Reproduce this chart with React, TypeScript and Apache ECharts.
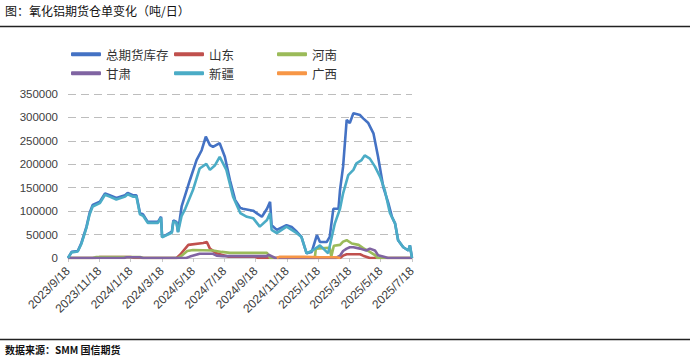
import React, { useEffect, useRef } from "react";
import * as echarts from "echarts";

const TICK_LABELS = [
  "2023/9/18", "2023/11/18", "2024/1/18", "2024/3/18", "2024/5/18", "2024/7/18",
  "2024/9/18", "2024/11/18", "2025/1/18", "2025/3/18", "2025/5/18", "2025/7/18",
];
const START_DATE = "2023-09-18";
const END_DATE = "2025-07-18";

const SERIES_NAMES = ["总期货库存", "山东", "河南", "甘肃", "新疆", "广西"];

type Pt = [string, number];

const TOTAL: Pt[] = [
  ["2023-09-18", 0], ["2023-09-25", 13000], ["2023-10-07", 15000], ["2023-10-14", 32000],
  ["2023-10-24", 67000], ["2023-10-30", 96000], ["2023-11-05", 113000], ["2023-11-19", 120000],
  ["2023-11-29", 138000], ["2023-12-08", 134000], ["2023-12-21", 128000], ["2024-01-07", 134000],
  ["2024-01-12", 139000], ["2024-01-22", 134000], ["2024-01-29", 134000], ["2024-02-05", 96000],
  ["2024-02-11", 93000], ["2024-02-20", 77000], ["2024-03-11", 77000], ["2024-03-17", 88000],
  ["2024-03-19", 45000], ["2024-03-28", 50000], ["2024-04-07", 56000], ["2024-04-10", 80000],
  ["2024-04-16", 77000], ["2024-04-19", 56000], ["2024-04-26", 110000], ["2024-05-12", 166000],
  ["2024-05-25", 209000], ["2024-06-04", 230000], ["2024-06-12", 259000], ["2024-06-20", 241000],
  ["2024-06-26", 237000], ["2024-07-09", 245000], ["2024-07-19", 216000], ["2024-07-29", 166000],
  ["2024-08-08", 124000], ["2024-08-18", 107000], ["2024-08-23", 105000], ["2024-09-12", 101000],
  ["2024-09-29", 88000], ["2024-10-09", 105000], ["2024-10-15", 120000], ["2024-10-18", 70000],
  ["2024-10-28", 60000], ["2024-11-16", 70000], ["2024-11-26", 66000], ["2024-12-06", 56000],
  ["2024-12-15", 45000], ["2024-12-25", 10000], ["2025-01-04", 13000], ["2025-01-14", 49000],
  ["2025-01-20", 34000], ["2025-02-02", 34000], ["2025-02-08", 45000], ["2025-02-15", 105000],
  ["2025-02-25", 105000], ["2025-02-28", 145000], ["2025-03-06", 195000], ["2025-03-13", 295000],
  ["2025-03-19", 288000], ["2025-03-26", 309000], ["2025-04-08", 305000], ["2025-04-14", 298000],
  ["2025-04-24", 288000], ["2025-05-04", 266000], ["2025-05-13", 216000], ["2025-05-23", 152000],
  ["2025-06-02", 117000], ["2025-06-09", 88000], ["2025-06-15", 74000], ["2025-06-21", 38000],
  ["2025-07-01", 23000], ["2025-07-11", 16000], ["2025-07-14", 27000], ["2025-07-18", 0],
];

const XINJIANG: Pt[] = [
  ["2023-09-18", 0], ["2023-09-25", 12000], ["2023-10-07", 14000], ["2023-10-14", 30000],
  ["2023-10-24", 65000], ["2023-10-30", 93000], ["2023-11-05", 110000], ["2023-11-19", 117000],
  ["2023-11-29", 135000], ["2023-12-08", 131000], ["2023-12-21", 125000], ["2024-01-07", 131000],
  ["2024-01-12", 136000], ["2024-01-22", 131000], ["2024-01-29", 131000], ["2024-02-05", 93000],
  ["2024-02-11", 90000], ["2024-02-20", 75000], ["2024-03-11", 75000], ["2024-03-17", 86000],
  ["2024-03-19", 44000], ["2024-03-28", 49000], ["2024-04-07", 54000], ["2024-04-10", 78000],
  ["2024-04-16", 75000], ["2024-04-19", 55000], ["2024-04-26", 90000], ["2024-05-03", 105000],
  ["2024-05-18", 145000], ["2024-05-31", 191000], ["2024-06-13", 201000], ["2024-06-20", 188000],
  ["2024-06-30", 198000], ["2024-07-09", 216000], ["2024-07-22", 188000], ["2024-08-04", 131000],
  ["2024-08-18", 96000], ["2024-08-31", 88000], ["2024-09-12", 85000], ["2024-09-25", 67000],
  ["2024-10-09", 81000], ["2024-10-15", 96000], ["2024-10-18", 60000], ["2024-10-28", 53000],
  ["2024-11-16", 67000], ["2024-12-06", 53000], ["2024-12-15", 45000], ["2024-12-25", 10000],
  ["2025-01-07", 17000], ["2025-01-20", 27000], ["2025-02-05", 10000], ["2025-02-12", 45000],
  ["2025-02-18", 74000], ["2025-02-28", 105000], ["2025-03-06", 138000], ["2025-03-16", 177000],
  ["2025-03-26", 188000], ["2025-04-01", 202000], ["2025-04-11", 209000], ["2025-04-17", 219000],
  ["2025-04-27", 212000], ["2025-05-07", 195000], ["2025-05-17", 173000], ["2025-05-26", 145000],
  ["2025-06-05", 96000], ["2025-06-15", 74000], ["2025-06-21", 38000], ["2025-07-01", 23000],
  ["2025-07-11", 16000], ["2025-07-14", 27000], ["2025-07-18", 0],
];

const SHANDONG: Pt[] = [
  ["2023-09-18", 0], ["2023-11-10", 0], ["2023-11-19", 2000], ["2024-01-18", 2000],
  ["2024-01-25", 0], ["2024-04-16", 0], ["2024-04-23", 7000], ["2024-05-09", 28000],
  ["2024-06-07", 32000], ["2024-06-14", 34000], ["2024-06-20", 20000], ["2024-07-03", 10000],
  ["2024-07-16", 6000], ["2024-07-25", 3000], ["2024-09-15", 3000], ["2024-09-22", 0],
  ["2025-02-28", 0], ["2025-03-06", 5000], ["2025-03-13", 8000], ["2025-04-08", 8000],
  ["2025-04-14", 5000], ["2025-04-27", 0], ["2025-07-18", 0],
];

const HENAN: Pt[] = [
  ["2023-09-18", 0], ["2023-11-05", 0], ["2023-11-12", 2000], ["2024-02-05", 2000],
  ["2024-02-12", 0], ["2024-04-19", 0], ["2024-04-26", 5000], ["2024-05-07", 15000],
  ["2024-05-18", 17000], ["2024-06-26", 16000], ["2024-07-13", 13000], ["2024-07-29", 11000],
  ["2024-10-09", 11000], ["2024-10-15", 0], ["2025-01-10", 0], ["2025-01-12", 20000],
  ["2025-02-08", 22000], ["2025-02-11", 3000], ["2025-02-16", 26000], ["2025-02-28", 28000],
  ["2025-03-06", 35000], ["2025-03-13", 38000], ["2025-03-23", 31000], ["2025-04-05", 28000],
  ["2025-04-14", 21000], ["2025-04-27", 13000], ["2025-05-07", 6000], ["2025-05-12", 0],
  ["2025-07-18", 0],
];

const GANSU: Pt[] = [
  ["2023-09-18", 0], ["2024-01-05", 0], ["2024-01-10", 1500], ["2024-02-05", 1500],
  ["2024-02-10", 0], ["2024-05-05", 0], ["2024-05-12", 3000], ["2024-05-31", 9000],
  ["2024-06-26", 9000], ["2024-07-03", 5000], ["2024-07-16", 4000], ["2024-10-09", 4000],
  ["2024-10-12", 7000], ["2024-10-25", 0], ["2025-02-20", 0], ["2025-02-28", 5000],
  ["2025-03-06", 15000], ["2025-03-13", 20000], ["2025-03-19", 23000], ["2025-03-26", 23000],
  ["2025-04-08", 20000], ["2025-04-20", 16000], ["2025-04-27", 20000], ["2025-05-07", 16000],
  ["2025-05-13", 6000], ["2025-05-26", 2000], ["2025-06-01", 0], ["2025-07-18", 0],
];

const GUANGXI: Pt[] = [
  ["2024-10-28", 0], ["2024-11-02", 2500], ["2024-12-20", 2500], ["2025-01-20", 1500],
  ["2025-02-20", 1500], ["2025-03-01", 0],
];

const COLORS: Record<string, string> = {
  "总期货库存": "#4472C4",
  "山东": "#C0504D",
  "河南": "#9BBB59",
  "甘肃": "#8064A2",
  "新疆": "#4BACC6",
  "广西": "#F79646",
};

function dayOffset(s: string): number {
  const [y, m, d] = s.split("-").map(Number);
  const [y0, m0, d0] = START_DATE.split("-").map(Number);
  return (Date.UTC(y, m - 1, d) - Date.UTC(y0, m0 - 1, d0)) / 86400000;
}

export default function App() {
  const ref = useRef<HTMLDivElement>(null);
  useEffect(() => {
    if (!ref.current) return;
    const chart = echarts.init(ref.current, null, { renderer: "svg" });
    const span = dayOffset(END_DATE);
    const step = span / (TICK_LABELS.length - 1);
    const toData = (arr: Pt[]) => arr.map(([d, v]) => [dayOffset(d), v]);
    const mk = (name: string, arr: Pt[], z: number) => ({
      name,
      type: "line",
      data: toData(arr),
      showSymbol: false,
      symbol: "none",
      z,
      lineStyle: { color: COLORS[name], width: 2.6 },
      itemStyle: { color: COLORS[name] },
    });
    const colLeft = [66, 169, 272];
    const rowTop = [43, 62];
    const legends = SERIES_NAMES.map((name, i) => ({
      left: colLeft[i % 3],
      top: rowTop[Math.floor(i / 3)],
      itemWidth: 30,
      itemHeight: 4,
      itemGap: 0,
      icon: "roundRect",
      data: [name],
      textStyle: { fontSize: 12.5, color: "#333", fontFamily: "Noto Sans CJK SC" },
    }));
    chart.setOption({
      animation: false,
      backgroundColor: "#ffffff",
      graphic: [
        {
          type: "text",
          left: 5,
          top: 4,
          style: {
            text: "图：氧化铝期货仓单变化（吨/日）",
            fontSize: 12,
            fontFamily: "Noto Sans CJK SC",
            fill: "#111",
          },
        },
        {
          type: "line",
          shape: { x1: 0, y1: 26.5, x2: 690, y2: 26.5 },
          style: { stroke: "#222", lineWidth: 1.5 },
        },
        {
          type: "line",
          shape: { x1: 0, y1: 339.5, x2: 690, y2: 339.5 },
          style: { stroke: "#222", lineWidth: 1.5 },
        },
        {
          type: "text",
          left: 5,
          top: 344,
          style: {
            text: "数据来源：SMM 国信期货",
            fontSize: 10,
            fontWeight: "bold",
            fontFamily: "Noto Sans CJK SC",
            fill: "#111",
          },
        },
      ],
      legend: legends,
      grid: { left: 68, right: 287, top: 94, bottom: 100 },
      xAxis: {
        type: "value",
        min: 0,
        max: span,
        interval: step,
        splitLine: { show: false },
        axisLine: { lineStyle: { color: "#d0d0d0", width: 1 } },
        axisTick: { show: true, length: 4, lineStyle: { color: "#c8c8c8" } },
        axisLabel: {
          rotate: 45,
          fontSize: 12,
          color: "#404040",
          fontFamily: "Liberation Sans",
          margin: 11,
          showMinLabel: true,
          showMaxLabel: true,
          formatter: (v: number) => TICK_LABELS[Math.round(v / step)] ?? "",
        },
      },
      yAxis: {
        type: "value",
        min: 0,
        max: 350000,
        interval: 50000,
        axisLine: { show: false },
        axisTick: { show: false },
        axisLabel: {
          fontSize: 11.5,
          color: "#404040",
          fontFamily: "Liberation Sans",
          margin: 10,
          formatter: (v: number) => String(v),
        },
        splitLine: { lineStyle: { color: "#bdbdbd", type: [8, 5], width: 1 } },
      },
      series: [
        mk("总期货库存", TOTAL, 2),
        mk("山东", SHANDONG, 3),
        mk("河南", HENAN, 4),
        mk("甘肃", GANSU, 5),
        mk("新疆", XINJIANG, 6),
        mk("广西", GUANGXI, 7),
      ],
    });
    return () => chart.dispose();
  }, []);
  return (
    <div style={{ position: "absolute", left: 0, top: 0, width: 699, height: 358, background: "#fff" }}>
      <div ref={ref} style={{ width: 699, height: 358 }} />
    </div>
  );
}
